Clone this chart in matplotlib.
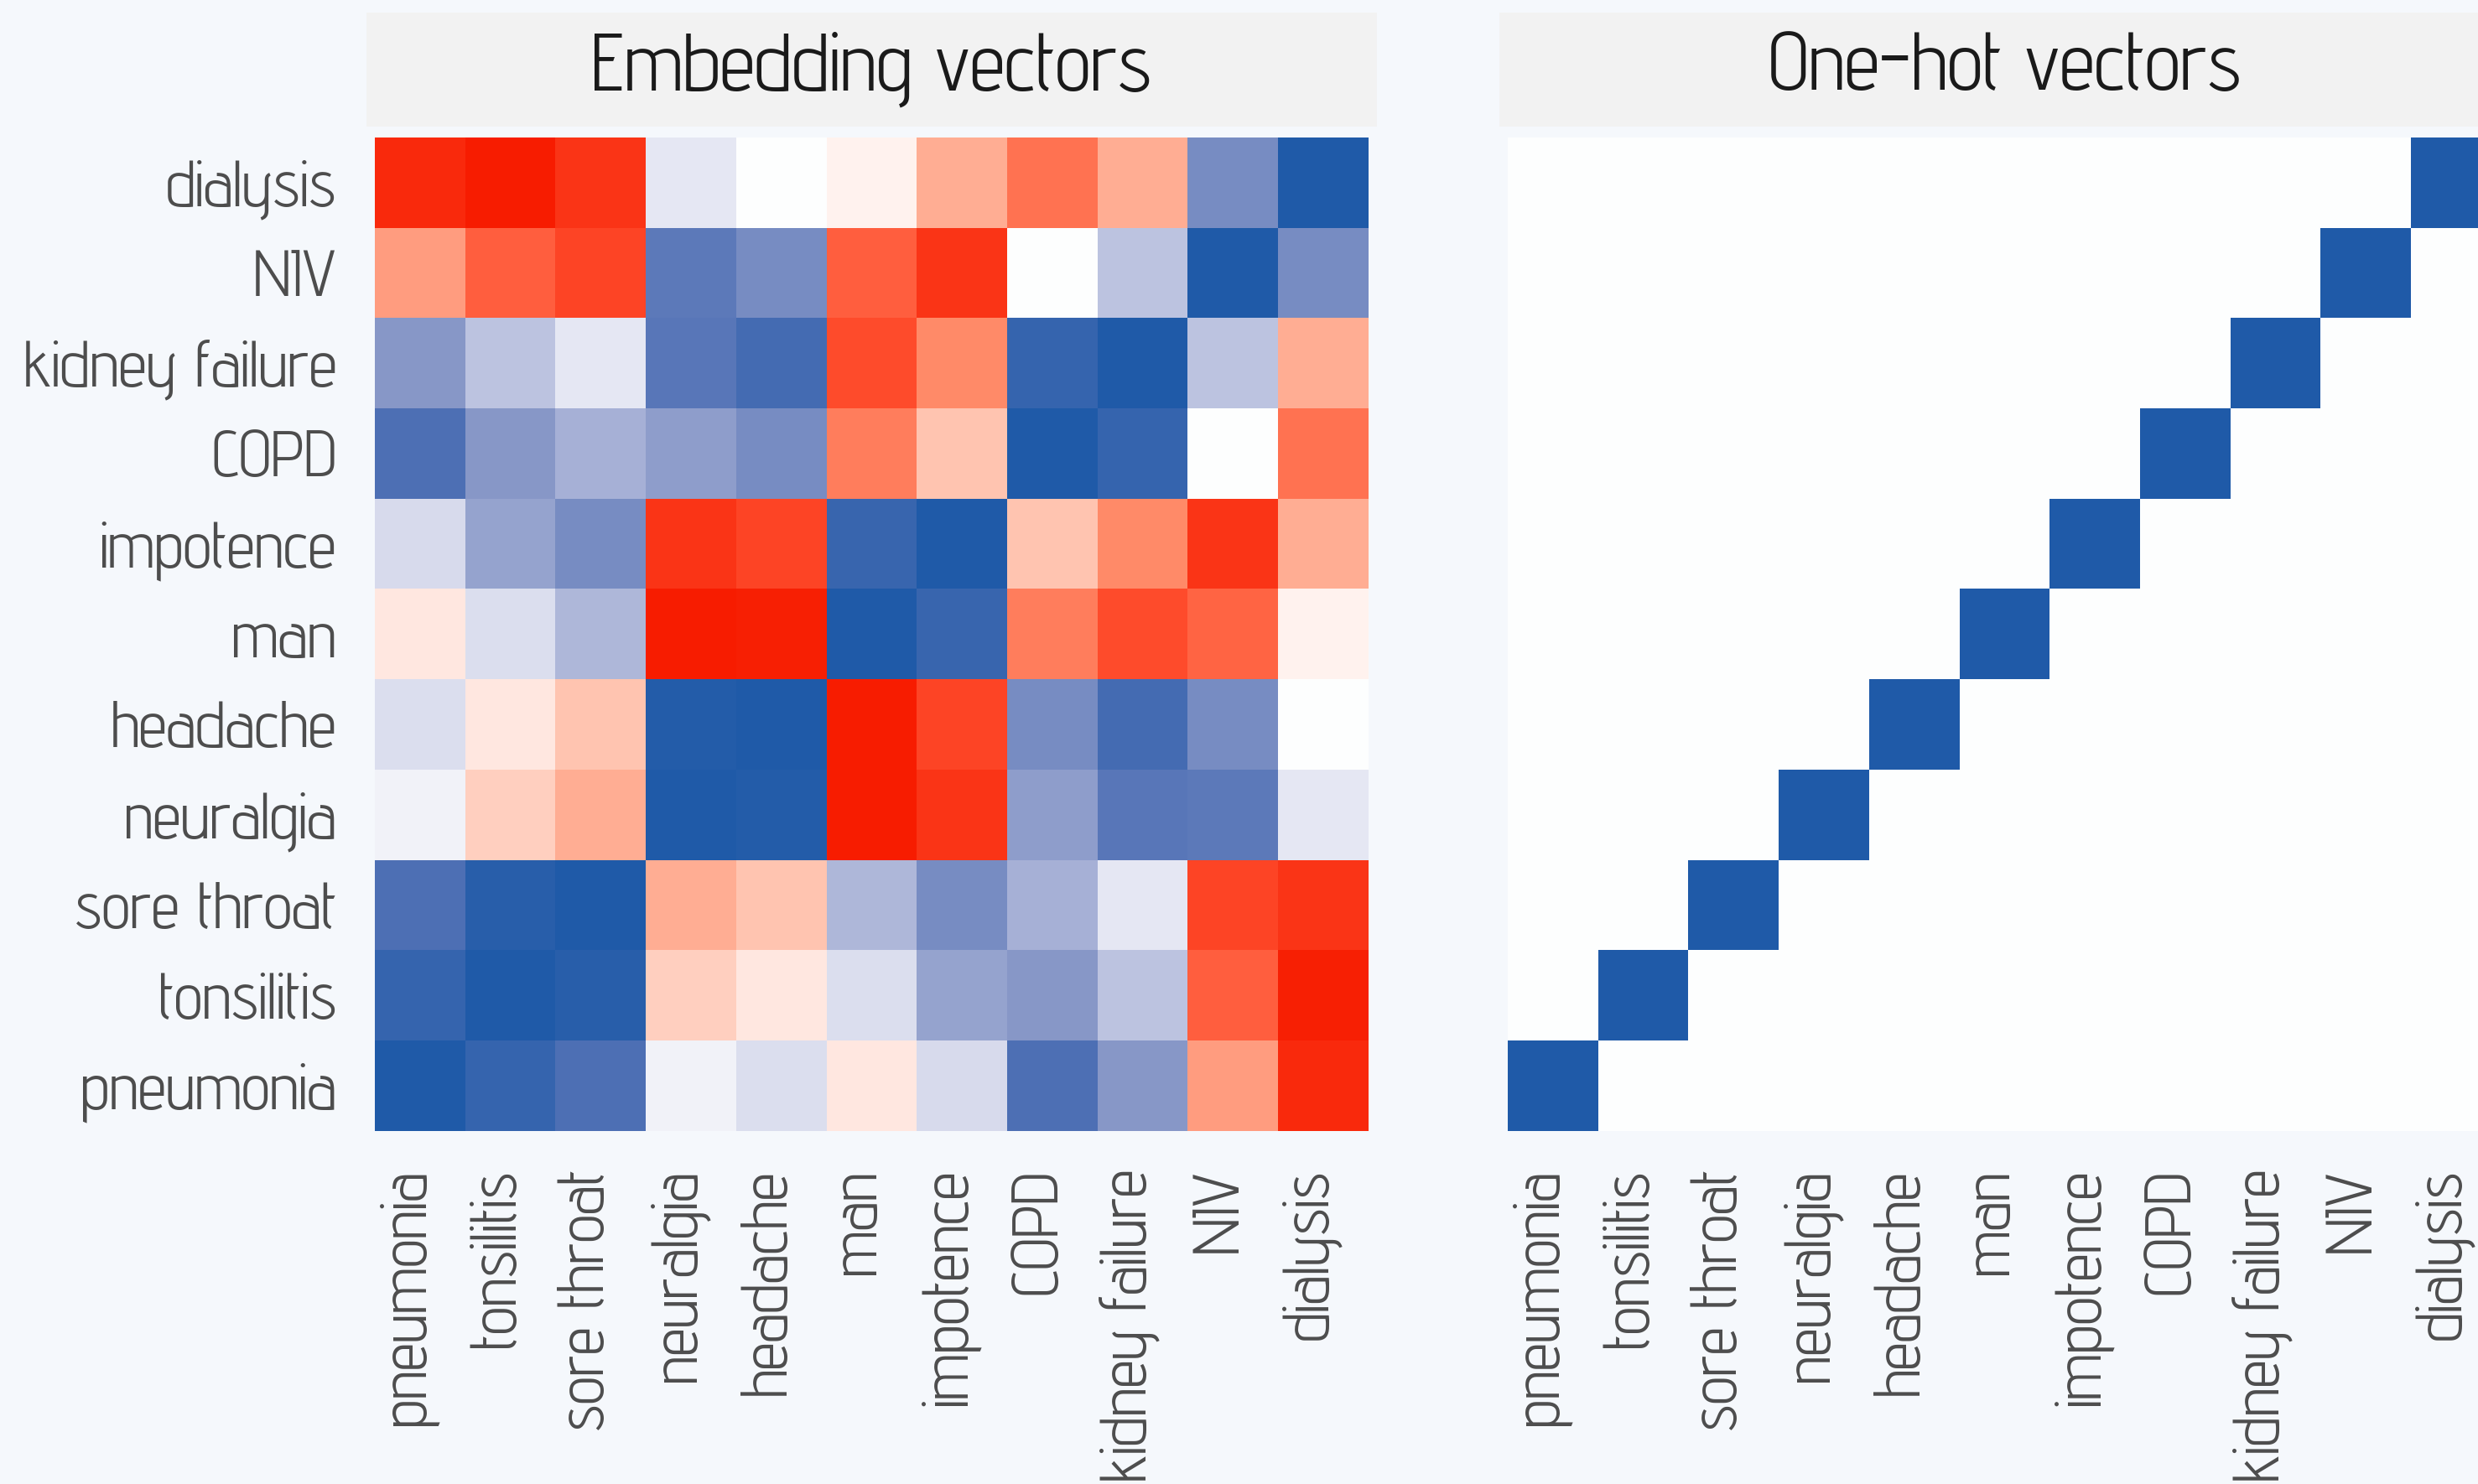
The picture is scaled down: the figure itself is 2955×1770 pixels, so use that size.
import numpy as np
import matplotlib
matplotlib.use("Agg")
import matplotlib.pyplot as plt
from matplotlib.colors import LinearSegmentedColormap
from matplotlib.transforms import ScaledTranslation

# words, in column order (left to right)
words = ["pneumonia", "tonsilitis", "sore throat", "neuralgia", "headache", "man",
         "impotence", "COPD", "kidney failure", "NIV", "dialysis"]
# rows are drawn top to bottom
row_words = words[::-1]

# embedding similarities, one list per row (top to bottom)
dialysis = [-0.93, -1.00, -0.88, 0.10, 0.00, -0.05, -0.35, -0.60, -0.35, 0.55, 1.00]
niv = [-0.42, -0.68, -0.80, 0.68, 0.55, -0.68, -0.88, 0.00, 0.25, 1.00, 0.55]
kidney_failure = [0.48, 0.25, 0.10, 0.70, 0.80, -0.77, -0.50, 0.88, 1.00, 0.25, -0.35]
copd = [0.75, 0.48, 0.35, 0.45, 0.55, -0.55, -0.25, 1.00, 0.88, 0.00, -0.60]
impotence = [0.15, 0.42, 0.55, -0.88, -0.80, 0.86, 1.00, -0.25, -0.50, -0.88, -0.35]
man = [-0.10, 0.14, 0.32, -1.00, -0.98, 1.00, 0.86, -0.55, -0.77, -0.66, -0.05]
headache = [0.14, -0.10, -0.25, 0.97, 1.00, -1.00, -0.80, 0.55, 0.80, 0.55, 0.00]
neuralgia = [0.05, -0.20, -0.35, 1.00, 0.97, -1.00, -0.88, 0.45, 0.70, 0.68, 0.10]
sore_throat = [0.75, 0.95, 1.00, -0.35, -0.25, 0.32, 0.55, 0.35, 0.10, -0.80, -0.88]
tonsilitis = [0.88, 1.00, 0.95, -0.20, -0.10, 0.14, 0.42, 0.48, 0.25, -0.68, -0.98]
pneumonia = [1.00, 0.88, 0.75, 0.05, 0.14, -0.10, 0.15, 0.75, 0.48, -0.42, -0.93]

embedding = np.array([dialysis, niv, kidney_failure, copd, impotence, man,
                      headache, neuralgia, sore_throat, tonsilitis, pneumonia])
# one-hot: each word has a 1 in its own column
one_hot = np.eye(len(words))[::-1]

bg = "#f5f8fc"
cmap = LinearSegmentedColormap.from_list(
    "rwb",
    [(0.0, "#f71c00"), (0.125, "#ff5030"), (0.25, "#ff8a68"), (0.375, "#ffc4b0"),
     (0.5, "#ffffff"), (0.625, "#bec4e1"), (0.75, "#8394c6"), (0.875, "#4f70b5"),
     (1.0, "#1f5aa8")])

plt.rcParams["font.family"] = ["Advent Pro", "Dosis", "DejaVu Sans"]
plt.rcParams["font.weight"] = 500

W, H = 2955, 1770
fig = plt.figure(figsize=(W / 100, H / 100), dpi=100, facecolor=bg)
shift = ScaledTranslation(-0.15, 0, fig.dpi_scale_trans)

def panel(x0, matrix, title, ylabels):
    # heatmap, pixel box converted to figure fractions
    ax = fig.add_axes([x0 / W, 1 - 1349 / H, 1185 / W, 1185 / H])
    ax.imshow(matrix, cmap=cmap, vmin=-1, vmax=1, aspect="auto",
              interpolation="nearest")
    ax.set_xticks(range(len(words)))
    ax.set_xticklabels(words, rotation=90, va="top", ha="center")
    if ylabels:
        ax.set_yticks(range(len(row_words)))
        ax.set_yticklabels(row_words)
    else:
        ax.set_yticks([])
    ax.tick_params(length=0, pad=33, labelsize=56, labelcolor="#4d4d4d")
    for lab in ax.get_xticklabels():
        lab.set_transform(lab.get_transform() + shift)
    for s in ax.spines.values():
        s.set_visible(False)

    strip = fig.add_axes([(x0 - 10) / W, 1 - 151 / H, 1205 / W, 136 / H])
    strip.set_facecolor("#f2f2f2")
    strip.set_xticks([])
    strip.set_yticks([])
    for s in strip.spines.values():
        s.set_visible(False)
    strip.text(0.5, 0.5, title, ha="center", va="center", fontsize=70,
               color="#1a1a1a", transform=strip.transAxes)
    return ax

panel(447, embedding, "Embedding vectors", True)
panel(1798, one_hot, "One-hot vectors", False)

fig.savefig("out.png", dpi=100, facecolor=bg)
